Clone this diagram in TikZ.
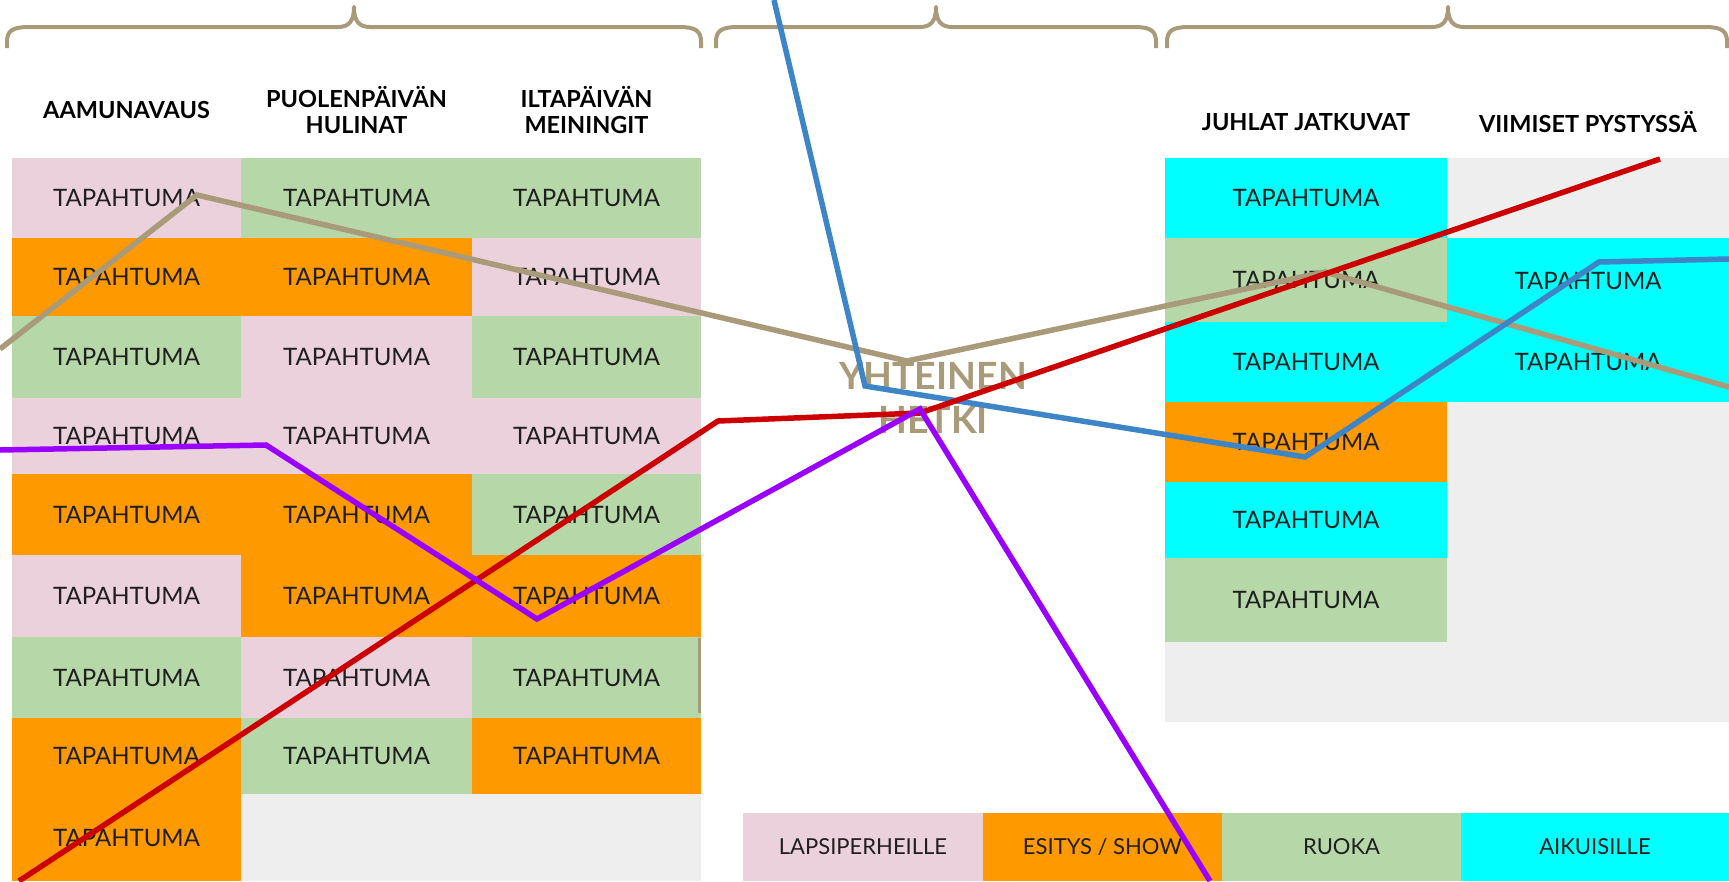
\documentclass[tikz,border=0pt]{standalone}
\usepackage{fontspec}
\setmainfont{Lato}
\definecolor{cpink}{HTML}{EAD1DC}
\definecolor{corange}{HTML}{FF9900}
\definecolor{cgreen}{HTML}{B6D7A8}
\definecolor{ccyan}{HTML}{00FFFF}
\definecolor{cgray}{HTML}{EEEEEE}
\definecolor{ctan}{HTML}{A99B7A}
\definecolor{cblue}{HTML}{3D85C6}
\definecolor{cred}{HTML}{CC0000}
\definecolor{cpurple}{HTML}{9900FF}
\tikzset{
  cellstyle/.style={rectangle, inner sep=0pt, outer sep=0pt, draw=none, text=black!88, font=\fontsize{24}{29}\selectfont},
  legstyle/.style={cellstyle, font=\fontsize{22}{26}\selectfont},
  headstyle/.style={align=center, text=black, font=\bfseries\fontsize{23.5}{26.5}\selectfont},
  bracestyle/.style={draw=ctan, line width=4pt, line join=round},
  trail/.style={line width=5.5pt, line join=miter}
}
% name, colour, x1, y1, x2, y2, text
\newcommand\cellbox[7]{%
  \node[cellstyle, fill=#2, minimum width={(#5-#3)*1pt}, minimum height={(#6-#4)*1pt}] (#1) at ({(#3+#5)/2},{(#4+#6)/2}) {#7};}
\newcommand\legbox[7]{%
  \node[legstyle, fill=#2, minimum width={(#5-#3)*1pt}, minimum height={(#6-#4)*1pt}] (#1) at ({(#3+#5)/2},{(#4+#6)/2}) {#7};}
% x1, cx, x2
\newcommand\tbrace[3]{%
  \draw[bracestyle] (#1,48) -- (#1,42) .. controls (#1,31) and (#1+5,27) .. (#1+22,27) -- (#2-16,27)
    .. controls (#2-5,27) and (#2,21) .. (#2,7) .. controls (#2,21) and (#2+5,27) .. (#2+16,27)
    -- (#3-22,27) .. controls (#3-5,27) and (#3,31) .. (#3,42) -- (#3,48);}
\begin{document}
\begin{tikzpicture}[x=1pt, y=-1pt]
\useasboundingbox[fill=white] (0,0) rectangle (1729,881);

% braces
\tbrace{7}{354}{701}
\tbrace{716}{936}{1156}
\tbrace{1167}{1448}{1727}

% headers
\node[headstyle] (h1) at (126.5,110) {AAMUNAVAUS};
\node[headstyle] (h2) at (356.5,110) {PUOLENPÄIVÄN\\HULINAT};
\node[headstyle] (h3) at (586.5,110) {ILTAPÄIVÄN\\MEININGIT};
\node[headstyle] (h4) at (1306,122) {JUHLAT JATKUVAT};
\node[headstyle] (h5) at (1588,122) {VIIMISET PYSTYSSÄ};

% left table: columns 12,241,472,701 ; rows 158,238,316,398,474,555,637,718,794,881
\cellbox{a1}{cpink}{12}{158}{241}{238}{TAPAHTUMA}
\cellbox{b1}{cgreen}{241}{158}{472}{238}{TAPAHTUMA}
\cellbox{c1}{cgreen}{472}{158}{701}{238}{TAPAHTUMA}
\cellbox{a2}{corange}{12}{238}{241}{316}{TAPAHTUMA}
\cellbox{b2}{corange}{241}{238}{472}{316}{TAPAHTUMA}
\cellbox{c2}{cpink}{472}{238}{701}{316}{TAPAHTUMA}
\cellbox{a3}{cgreen}{12}{316}{241}{398}{TAPAHTUMA}
\cellbox{b3}{cpink}{241}{316}{472}{398}{TAPAHTUMA}
\cellbox{c3}{cgreen}{472}{316}{701}{398}{TAPAHTUMA}
\cellbox{a4}{cpink}{12}{398}{241}{474}{TAPAHTUMA}
\cellbox{b4}{cpink}{241}{398}{472}{474}{TAPAHTUMA}
\cellbox{c4}{cpink}{472}{398}{701}{474}{TAPAHTUMA}
\cellbox{a5}{corange}{12}{474}{241}{555}{TAPAHTUMA}
\cellbox{b5}{corange}{241}{474}{472}{555}{TAPAHTUMA}
\cellbox{c5}{cgreen}{472}{474}{701}{555}{TAPAHTUMA}
\cellbox{a6}{cpink}{12}{555}{241}{637}{TAPAHTUMA}
\cellbox{b6}{corange}{241}{555}{472}{637}{TAPAHTUMA}
\cellbox{c6}{corange}{472}{555}{701}{637}{TAPAHTUMA}
\cellbox{a7}{cgreen}{12}{637}{241}{718}{TAPAHTUMA}
\cellbox{b7}{cpink}{241}{637}{472}{718}{TAPAHTUMA}
\cellbox{c7}{cgreen}{472}{637}{701}{718}{TAPAHTUMA}
\cellbox{a8}{corange}{12}{718}{241}{794}{TAPAHTUMA}
\cellbox{b8}{cgreen}{241}{718}{472}{794}{TAPAHTUMA}
\cellbox{c8}{corange}{472}{718}{701}{794}{TAPAHTUMA}
\cellbox{a9}{corange}{12}{794}{241}{881}{TAPAHTUMA}
\cellbox{bc9}{cgray}{241}{794}{701}{881}{}
\draw[ctan, line width=3pt] (699.5,638) -- (699.5,713);

% right table: columns 1165,1447,1729 ; rows 158,238,322,402,482,558,642,722
\cellbox{d1}{ccyan}{1165}{158}{1447}{238}{TAPAHTUMA}
\cellbox{d2}{cgreen}{1165}{238}{1447}{322}{TAPAHTUMA}
\cellbox{d3}{ccyan}{1165}{322}{1447}{402}{TAPAHTUMA}
\cellbox{d4}{corange}{1165}{402}{1447}{482}{TAPAHTUMA}
\cellbox{d5}{ccyan}{1165}{482}{1447}{558}{TAPAHTUMA}
\cellbox{d6}{cgreen}{1165}{558}{1447}{642}{TAPAHTUMA}
\cellbox{d7}{cgray}{1165}{642}{1447}{722}{}
\cellbox{e1}{cgray}{1447}{158}{1729}{238}{}
\cellbox{e23}{ccyan}{1447}{238}{1729}{402}{}
\node[cellstyle] (e2) at (1588,281) {TAPAHTUMA};
\node[cellstyle] (e3) at (1588,362) {TAPAHTUMA};
\cellbox{e47}{cgray}{1447}{402}{1729}{722}{}

% legend
\legbox{l1}{cpink}{743}{813}{983}{881}{LAPSIPERHEILLE}
\legbox{l2}{corange}{983}{813}{1222}{881}{ESITYS / SHOW}
\legbox{l3}{cgreen}{1222}{813}{1461}{881}{RUOKA}
\legbox{l4}{ccyan}{1461}{813}{1729}{881}{AIKUISILLE}

% centre label
\node[align=center, text=ctan, font=\bfseries\fontsize{37.5}{44}\selectfont] (yh) at (933,398) {YHTEINEN\\HETKI};

% trail points
\coordinate (t1) at (0,349);   \coordinate (t2) at (197,195); \coordinate (t3) at (907,361);
\coordinate (t4) at (1325,272); \coordinate (t5) at (1729,387);
\coordinate (b1) at (774,0);   \coordinate (b2) at (865,386); \coordinate (b3) at (1305,457);
\coordinate (b4) at (1599,262); \coordinate (b5) at (1729,259);
\coordinate (r1) at (19,881);  \coordinate (r2) at (718,421); \coordinate (r3) at (920,413);
\coordinate (r4) at (1660,159);
\coordinate (p1) at (0,450);   \coordinate (p2) at (266,445); \coordinate (p3) at (537,619);
\coordinate (p4) at (920,409); \coordinate (p5) at (1210,881);

\begin{scope}
\clip (0,0) rectangle (1729,881);
\draw[trail, ctan] (t1) -- (t2) -- (t3) -- (t4) -- (t5);
\draw[trail, cblue] (b1) -- (b2) -- (b3) -- (b4) -- (b5);
\draw[trail, cred] (r1) -- (r2) -- (r3) -- (r4);
\draw[trail, cpurple] (p1) -- (p2) -- (p3) -- (p4) -- (p5);
\end{scope}
\end{tikzpicture}
\end{document}
